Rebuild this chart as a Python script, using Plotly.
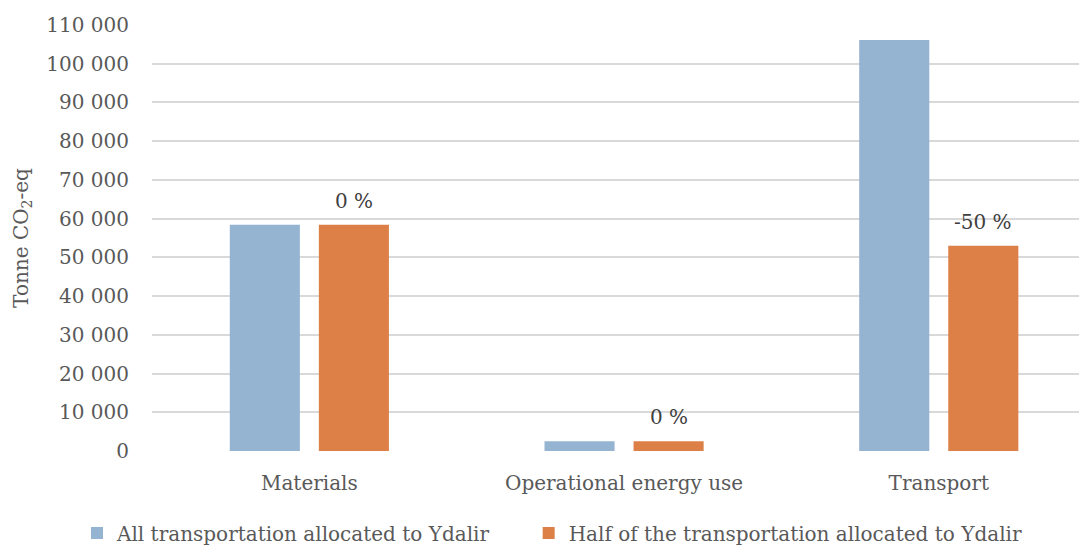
import plotly.graph_objects as go

categories = ["Materials", "Operational energy use", "Transport"]
series_names = ["All transportation allocated to Ydalir",
                "Half of the transportation allocated to Ydalir"]
all_transport = [58400, 2500, 106100]
half_transport = [58400, 2500, 53000]
change_labels = ["0 %", "0 %", "-50 %"]
y_ticks = list(range(0, 110001, 10000))
y_tick_labels = [f"{v:,}".replace(",", " ") for v in y_ticks]

BLUE = "#95B4D2"
ORANGE = "#DC8047"
TEXT = "#595959"
FONT = "DejaVu Serif"

bargap = 0.434
fig = go.Figure()
fig.add_trace(go.Bar(x=list(range(len(categories))), y=all_transport, name=series_names[0],
                     marker=dict(color=BLUE, line=dict(width=0)), legend="legend"))
fig.add_trace(go.Bar(x=list(range(len(categories))), y=half_transport, name=series_names[1],
                     marker=dict(color=ORANGE, line=dict(width=0)), legend="legend2"))

offset = (1 - bargap) / 4
for i, (v, t) in enumerate(zip(half_transport, change_labels)):
    fig.add_annotation(x=i + offset, y=v, text=t, showarrow=False, yshift=24,
                       xref="x", yref="y", font=dict(size=20, color="#404040", family=FONT))

legend_common = dict(orientation="h", xref="container", yref="container",
                     xanchor="left", y=0.0367, yanchor="middle",
                     font=dict(size=20, color=TEXT, family=FONT),
                     itemwidth=30, bgcolor="rgba(0,0,0,0)", borderwidth=0)

fig.update_layout(
    template="none",
    width=1087, height=545,
    margin=dict(l=144, r=8, t=17, b=102, autoexpand=False),
    paper_bgcolor="white", plot_bgcolor="white",
    barmode="group", bargap=bargap, bargroupgap=0.213,
    font=dict(family=FONT, color=TEXT, size=20),
    showlegend=True,
    legend=dict(x=0.0635, **legend_common),
    legend2=dict(x=0.479, **legend_common),
)
fig.update_xaxes(tickmode="array", tickvals=list(range(len(categories))), ticktext=categories,
                 range=[-0.5, 2.471], showgrid=False, zeroline=False, showline=False,
                 automargin=False,
                 ticks="", ticklabelstandoff=18, tickfont=dict(size=20, color=TEXT))
fig.update_yaxes(range=[0, 110000], tickmode="array", tickvals=y_ticks, ticktext=y_tick_labels,
                 showgrid=True, gridcolor="#D9D9D9", gridwidth=1.5, zeroline=False,
                 showline=False, ticks="", ticklabelstandoff=22, automargin=False,
                 tickfont=dict(size=20, color=TEXT),
                 title=dict(text="Tonne CO<sub>2</sub>-eq", standoff=12,
                            font=dict(size=20, color=TEXT)))

fig.write_html("out.html")
